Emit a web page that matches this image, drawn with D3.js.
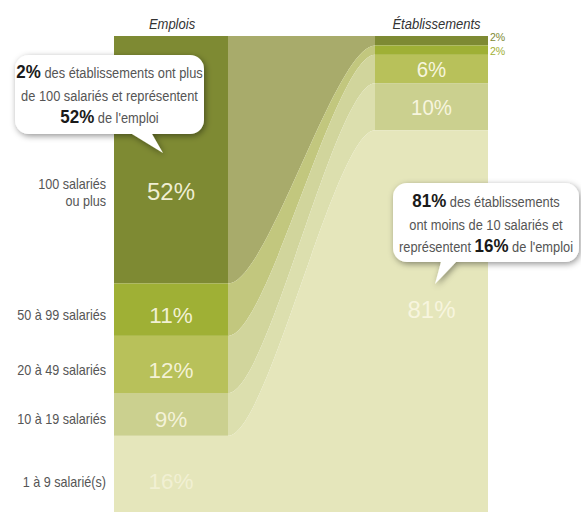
<!DOCTYPE html>
<html>
<head>
<meta charset="utf-8">
<script src="https://cdn.jsdelivr.net/npm/d3@7"></script>
<style>
  body { margin: 0; background: #fff; }
  svg { display: block; font-family: "Liberation Sans", Arial, sans-serif; }
</style>
</head>
<body>
<svg id="chart" width="581" height="514"></svg>
<script>
// data
const categories = ['100 salariés|ou plus', '50 à 99 salariés', '20 à 49 salariés', '10 à 19 salariés', '1 à 9 salarié(s)'];
const emplois = [52, 11, 12, 9, 16];
const etablissements = [2, 2, 6, 10, 81];
const columnTitles = ['Emplois', 'Établissements'];

const barColors = ['#7e8a33', '#9fb035', '#b8c15a', '#cbd08f', '#e5e6bb'];
const flowColors = ['#a8ab6b', '#c2c77e', '#d1d59c', '#dcdfae', '#e5e6bb'];

const svg = d3.select('#chart');
const yTop = 36, yBottom = 512;
const leftCol = { x0: 114, x1: 228 };
const rightCol = { x0: 375, x1: 488 };

const yLeft = d3.scaleLinear().domain([0, d3.sum(emplois)]).range([yTop, yBottom]);
const yRight = d3.scaleLinear().domain([0, d3.sum(etablissements)]).range([yTop, yBottom]);

const stack = vals => {
  let acc = 0;
  return vals.map(v => { const s = acc; acc += v; return [s, acc]; });
};
const leftStack = stack(emplois);
const rightStack = stack(etablissements);

const bands = categories.map((c, i) => ({
  cat: c,
  i,
  emp: emplois[i],
  eta: etablissements[i],
  l0: yLeft(leftStack[i][0]), l1: yLeft(leftStack[i][1]),
  r0: yRight(rightStack[i][0]), r1: yRight(rightStack[i][1])
}));

// condensed text: real text squeezed horizontally (no narrow font installed)
function squeezed(sel, x, y, str, opts) {
  const o = Object.assign({ size: 14, sx: 0.9, anchor: 'middle', fill: '#555', weight: null, style: null }, opts);
  return sel.append('text')
    .attr('transform', `translate(${x},${y}) scale(${o.sx},1)`)
    .attr('text-anchor', o.anchor)
    .attr('font-size', o.size)
    .attr('font-weight', o.weight)
    .attr('font-style', o.style)
    .attr('fill', o.fill)
    .text(str);
}

// flows between the two columns
const K = 0.27;
const flowPath = d => {
  const w = rightCol.x0 - leftCol.x1;
  const p = d3.path();
  p.moveTo(leftCol.x1, d.l0);
  p.bezierCurveTo(leftCol.x1 + K * w, d.l0, rightCol.x0 - K * w, d.r0, rightCol.x0, d.r0);
  p.lineTo(rightCol.x0, d.r1);
  p.bezierCurveTo(rightCol.x0 - K * w, d.r1, leftCol.x1 + K * w, d.l1, leftCol.x1, d.l1);
  p.closePath();
  return p.toString();
};

svg.append('g')
  .selectAll('path')
  .data(bands)
  .join('path')
  .attr('d', flowPath)
  .attr('fill', d => flowColors[d.i]);

// columns
svg.append('g')
  .selectAll('rect')
  .data(bands)
  .join('rect')
  .attr('x', leftCol.x0)
  .attr('width', leftCol.x1 - leftCol.x0)
  .attr('y', d => d.l0)
  .attr('height', d => d.l1 - d.l0)
  .attr('fill', d => barColors[d.i]);

svg.append('g')
  .selectAll('rect')
  .data(bands)
  .join('rect')
  .attr('x', rightCol.x0)
  .attr('width', rightCol.x1 - rightCol.x0)
  .attr('y', d => d.r0)
  .attr('height', d => d.r1 - d.r0)
  .attr('fill', d => barColors[d.i]);

// titles
const lcx = (leftCol.x0 + leftCol.x1) / 2;
const rcx = (rightCol.x0 + rightCol.x1) / 2;
columnTitles.forEach((t, i) => {
  squeezed(svg, i === 0 ? lcx + 1 : rcx + 5, 29, t, { size: 14, sx: 0.93, style: 'italic', fill: '#333' });
});

// where the left labels sit inside their band
const leftLabelY = d => d.l0 + (d.l1 - d.l0) * (d.emp > 50 ? 0.63 : 0.6);

// left percentages
bands.forEach(d => {
  const big = d.emp > 50;
  squeezed(svg, lcx, leftLabelY(d), d.emp + '%', {
    size: big ? 24 : 22.5, sx: 1, fill: '#f7f5de'
  }).attr('dy', '0.35em').attr('fill-opacity', d.i === 4 ? 0.7 : 0.95);
});

// category labels
bands.forEach(d => {
  const parts = d.cat.split('|');
  const yc = leftLabelY(d);
  parts.forEach((p, j) => {
    const off = parts.length > 1 ? (j === 0 ? -3 : 14) : 5;
    squeezed(svg, 106, yc + off, p, { size: 14, sx: 0.9, anchor: 'end', fill: '#555' });
  });
});

// right percentages (inside for big bands, outside for small ones)
bands.forEach(d => {
  if (d.eta < 5) {
    squeezed(svg, rightCol.x1 + 2, d.r0 + (d.i === 0 ? 5 : 10), d.eta + '%', {
      size: 11.5, sx: 0.92, anchor: 'start', fill: barColors[d.i]
    });
  } else {
    const big = d.eta > 50;
    squeezed(svg, rcx, d.r0 + (d.r1 - d.r0) * (big ? 0.47 : 0.52), d.eta + '%', {
      size: big ? 24 : 21.5, sx: big ? 1 : 0.95, fill: '#f7f5de'
    }).attr('dy', '0.35em');
  }
});

// callouts
const defs = svg.append('defs');
defs.append('filter')
  .attr('id', 'shadow')
  .attr('x', '-20%').attr('y', '-20%').attr('width', '140%').attr('height', '150%')
  .append('feDropShadow')
  .attr('dx', 1.5).attr('dy', 2).attr('stdDeviation', 3)
  .attr('flood-color', '#000').attr('flood-opacity', 0.42);

function bubble(x, y, w, h, r, tail) {
  const p = d3.path();
  p.moveTo(x + r, y);
  p.lineTo(x + w - r, y);
  p.arcTo(x + w, y, x + w, y + r, r);
  p.lineTo(x + w, y + h - r);
  p.arcTo(x + w, y + h, x + w - r, y + h, r);
  p.lineTo(tail.b1, y + h);
  p.lineTo(tail.tx, tail.ty);
  p.lineTo(tail.b0, y + h);
  p.lineTo(x + r, y + h);
  p.arcTo(x, y + h, x, y + h - r, r);
  p.lineTo(x, y + r);
  p.arcTo(x, y, x + r, y, r);
  p.closePath();
  return p.toString();
}

const callouts = [
  {
    box: [15, 55, 189, 79], tail: { b0: 132, b1: 152, tx: 163, ty: 153 },
    lines: [[['2%', true], [' des établissements ont plus', false]],
            [['de 100 salariés et représentent', false]],
            [['52%', true], [' de l\'emploi', false]]],
    y0: 78
  },
  {
    box: [393, 183, 186, 79], tail: { b0: 441, b1: 456, tx: 435, ty: 284 },
    lines: [[['81%', true], [' des établissements', false]],
            [['ont moins de 10 salariés et', false]],
            [['représentent ', false], ['16%', true], [' de l\'emploi', false]]],
    y0: 207
  }
];

const SX_REG = 0.885, SX_BOLD = 0.97;
callouts.forEach(c => {
  const [x, y, w, h] = c.box;
  svg.append('path')
    .attr('d', bubble(x, y, w, h, 14, c.tail))
    .attr('fill', '#fff')
    .attr('filter', 'url(#shadow)');
  const g = svg.append('g');
  c.lines.forEach((line, li) => {
    const ly = c.y0 + li * 22.5;
    // measure every piece, then lay them out centred
    const pieces = line.map(([s, bold]) => {
      const t = squeezed(g, 0, ly, s, {
        size: bold ? 17.5 : 14.5,
        sx: bold ? SX_BOLD : SX_REG,
        anchor: 'start',
        weight: bold ? 'bold' : null,
        fill: bold ? '#1a1a1a' : '#555'
      }).style('white-space', 'pre');
      return { t, sx: bold ? SX_BOLD : SX_REG, w: t.node().getComputedTextLength() * (bold ? SX_BOLD : SX_REG) };
    });
    let cx = x + w / 2 - d3.sum(pieces, p => p.w) / 2;
    pieces.forEach(p => {
      p.t.attr('transform', `translate(${cx},${ly}) scale(${p.sx},1)`);
      cx += p.w;
    });
  });
});
</script>
</body>
</html>
